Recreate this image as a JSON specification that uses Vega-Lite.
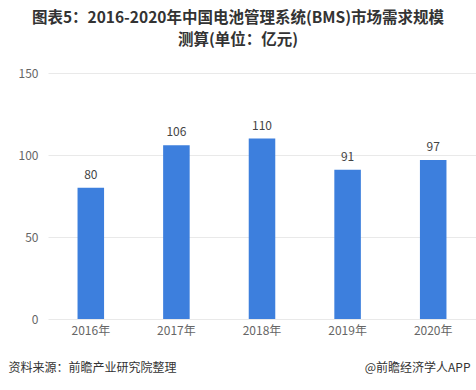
{
  "$schema": "https://vega.github.io/schema/vega-lite/v6.json",
  "width": 428,
  "height": 246,
  "autosize": {"type": "none"},
  "padding": {"left": 48, "top": 73, "right": 0, "bottom": 71},
  "background": "white",
  "config": {
    "view": {"stroke": null},
    "font": "Noto Sans CJK SC"
  },
  "title": {
    "text": ["图表5：2016-2020年中国电池管理系统(BMS)市场需求规模", "测算(单位：亿元)"],
    "fontSize": 15.5,
    "fontWeight": "bold",
    "color": "#333333",
    "anchor": "middle",
    "dx": -24,
    "offset": 19,
    "lineHeight": 22
  },
  "data": {
    "values": [
      {"year": "2016年", "value": 80},
      {"year": "2017年", "value": 106},
      {"year": "2018年", "value": 110},
      {"year": "2019年", "value": 91},
      {"year": "2020年", "value": 97}
    ]
  },
  "encoding": {
    "x": {
      "field": "year", "type": "nominal", "sort": null,
      "scale": {"paddingInner": 0.69, "paddingOuter": 0.345},
      "axis": {
        "title": "资料来源：前瞻产业研究院整理",
        "titleFontSize": 12, "titleFontWeight": "normal", "titleColor": "#333333",
        "titleAnchor": "start", "titleAlign": "left", "titleBaseline": "middle",
        "titleX": -40, "titleY": 48,
        "labelAngle": 0, "labelFontSize": 12, "labelColor": "#666666", "labelPadding": 6,
        "domain": false, "ticks": false
      }
    },
    "y": {
      "field": "value", "type": "quantitative",
      "scale": {"domain": [0, 150]},
      "axis": {
        "values": [0, 50, 100, 150],
        "title": "@前瞻经济学人APP",
        "titleFontSize": 12, "titleFontWeight": "normal", "titleColor": "#333333",
        "titleAngle": 0, "titleAlign": "right", "titleBaseline": "middle",
        "titleX": 422, "titleY": 294,
        "labelFontSize": 12, "labelColor": "#666666", "labelPadding": 10,
        "domain": false, "ticks": false,
        "gridColor": "#e9e9e9"
      }
    }
  },
  "layer": [
    {"mark": {"type": "bar", "color": "#3d7fdd"}},
    {
      "mark": {"type": "text", "dy": -6, "fontSize": 12, "color": "#444444", "baseline": "bottom"},
      "encoding": {"text": {"field": "value", "type": "quantitative"}}
    }
  ]
}
